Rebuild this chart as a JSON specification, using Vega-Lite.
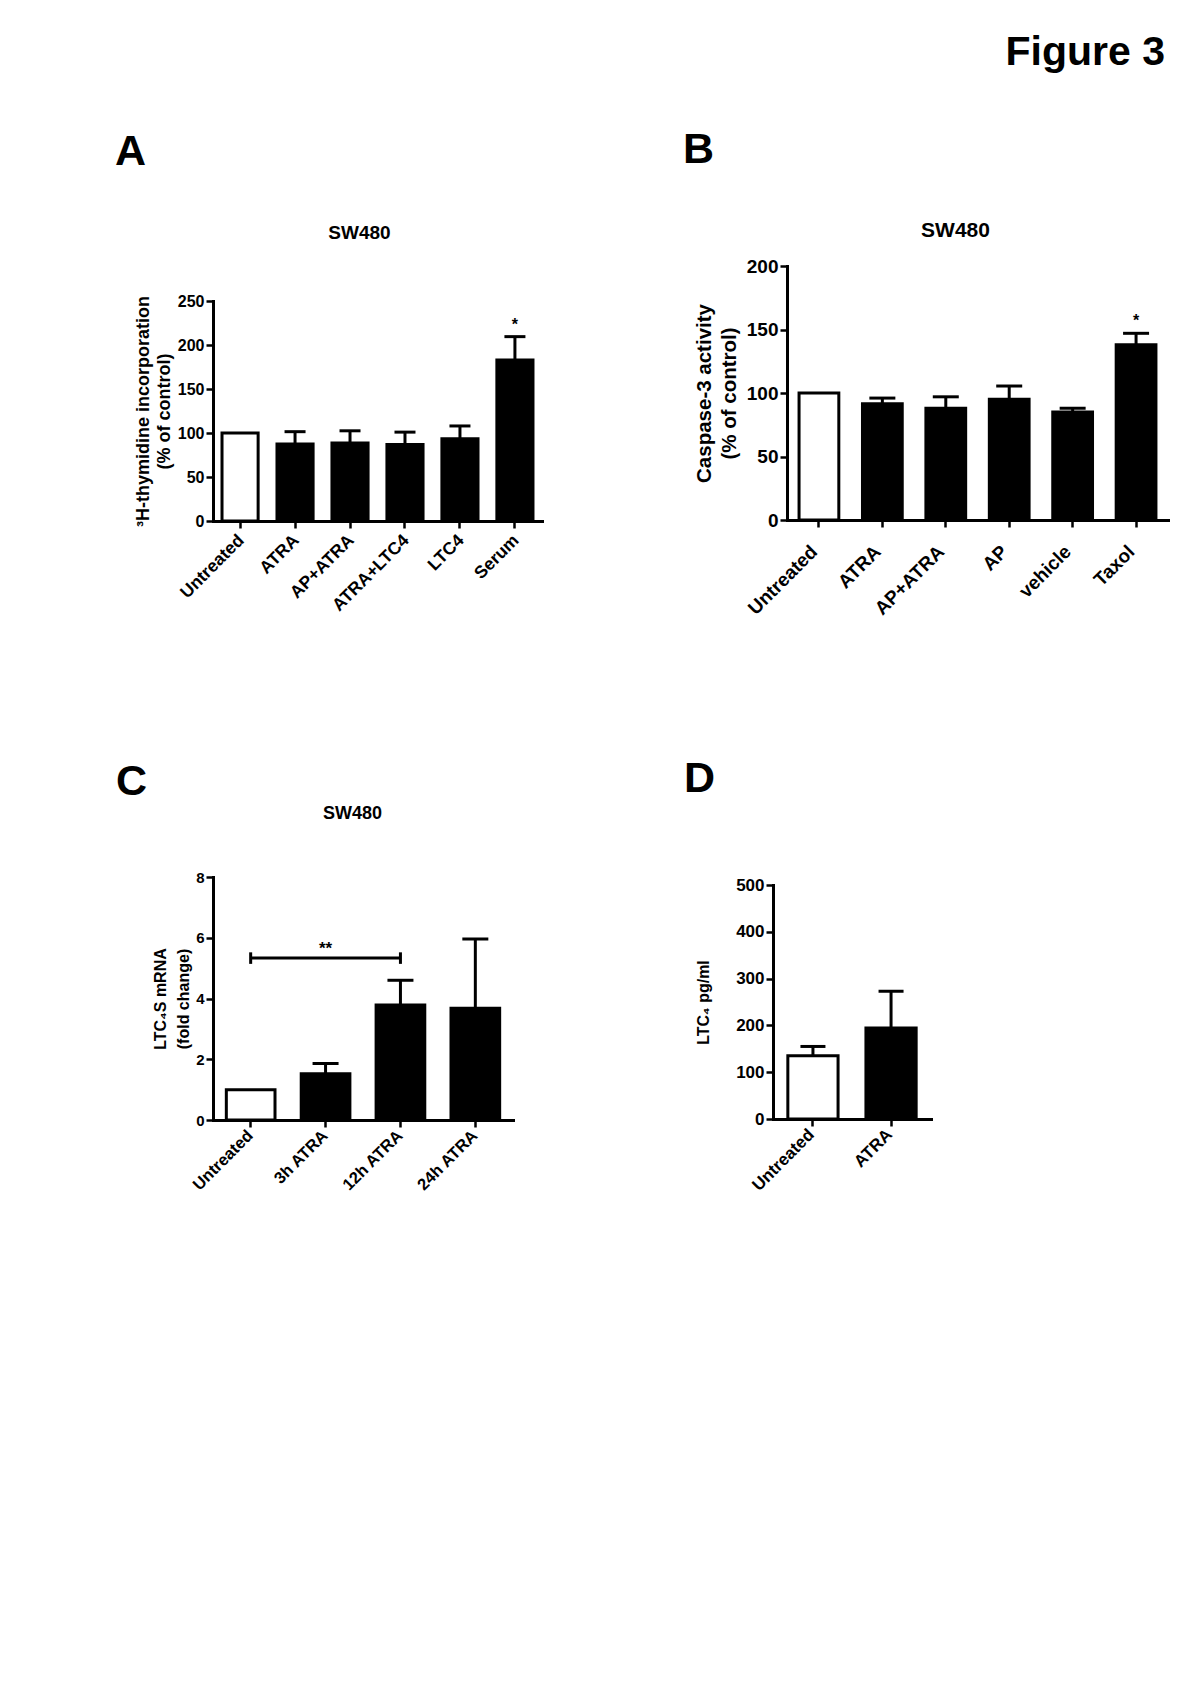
{
  "$schema": "https://vega.github.io/schema/vega-lite/v6.json",
  "padding": {"left": 115, "top": 32, "right": 5, "bottom": 5},
  "background": "white",
  "title": {"text": "Figure 3", "anchor": "end", "fontSize": 41, "offset": 55, "dx": -3},
  "config": {
    "font": "Liberation Sans",
    "view": {"stroke": null},
    "title": {"font": "Liberation Sans", "fontWeight": "bold", "color": "black"},
    "axis": {
      "domainColor": "black", "domainWidth": 3, "domainCap": "square",
      "tickColor": "black", "tickWidth": 2.5, "tickSize": 7,
      "labelColor": "black", "labelFontWeight": "bold", "labelFont": "Liberation Sans",
      "titleColor": "black", "titleFontWeight": "bold", "titleFont": "Liberation Sans",
      "grid": false
    }
  },
  "datasets": {
    "a": [
      {"group": "Untreated", "kind": "open", "value": 100, "err": null, "sig": ""},
      {"group": "ATRA", "kind": "filled", "value": 87.5, "err": 101.5, "sig": ""},
      {"group": "AP+ATRA", "kind": "filled", "value": 88.5, "err": 102.5, "sig": ""},
      {"group": "ATRA+LTC4", "kind": "filled", "value": 87, "err": 101, "sig": ""},
      {"group": "LTC4", "kind": "filled", "value": 93.5, "err": 108, "sig": ""},
      {"group": "Serum", "kind": "filled", "value": 183, "err": 209.5, "sig": "*"}
    ],
    "b": [
      {"group": "Untreated", "kind": "open", "value": 100, "err": null, "sig": ""},
      {"group": "ATRA", "kind": "filled", "value": 91.5, "err": 96, "sig": ""},
      {"group": "AP+ATRA", "kind": "filled", "value": 88, "err": 97, "sig": ""},
      {"group": "AP", "kind": "filled", "value": 95, "err": 105.5, "sig": ""},
      {"group": "vehicle", "kind": "filled", "value": 85, "err": 88, "sig": ""},
      {"group": "Taxol", "kind": "filled", "value": 138, "err": 147, "sig": "*"}
    ],
    "c": [
      {"group": "Untreated", "kind": "open", "value": 1, "err": null},
      {"group": "3h ATRA", "kind": "filled", "value": 1.52, "err": 1.86},
      {"group": "12h ATRA", "kind": "filled", "value": 3.79, "err": 4.6},
      {"group": "24h ATRA", "kind": "filled", "value": 3.68, "err": 5.96}
    ],
    "cbracket": [
      {"from": "Untreated", "to": "12h ATRA", "mid": "3h ATRA", "level": 5.33, "label": "**"}
    ],
    "cends": [
      {"group": "Untreated", "lo": 5.14, "hi": 5.52},
      {"group": "12h ATRA", "lo": 5.14, "hi": 5.52}
    ],
    "d": [
      {"group": "Untreated", "kind": "open", "value": 135, "err": 155},
      {"group": "ATRA", "kind": "filled", "value": 194.5, "err": 273}
    ]
  },
  "spacing": 139,
  "vconcat": [
    {
      "spacing": 141,
      "hconcat": [
        {
          "width": 329, "height": 255,
          "title": {"text": "A", "anchor": "start", "frame": "group", "dx": -98, "fontSize": 43, "offset": 49},
          "data": {"name": "a"},
          "layer": [
            {
              "mark": {"type": "bar", "stroke": "black", "strokeWidth": 3},
              "encoding": {
                "x": {"field": "group", "type": "nominal",
                  "scale": {"domain": ["Untreated", "ATRA", "AP+ATRA", "ATRA+LTC4", "LTC4", "Serum"], "paddingInner": 0.343, "paddingOuter": 0.164},
                  "axis": {"title": "SW480", "titleY": -283, "titleX": 146, "titleBaseline": "alphabetic", "titleAlign": "center", "titleFontSize": 19, "labelAngle": -45, "labelFontSize": 17.5, "labelPadding": 3, "labelOffset": -5}},
                "y": {"field": "value", "type": "quantitative",
                  "scale": {"domain": [0, 250], "nice": false, "range": [255, 35]},
                  "axis": {"title": ["³H-thymidine incorporation", "(% of control)"], "titleFontSize": 18, "titleLineHeight": 21, "titlePadding": 4, "labelPadding": 2, "labelFontSize": 16, "values": [0, 50, 100, 150, 200, 250]}},
                "fill": {"field": "kind", "type": "nominal", "scale": {"domain": ["open", "filled"], "range": ["white", "black"]}, "legend": null}
              }
            },
            {
              "transform": [{"filter": "datum.err != null"}],
              "mark": {"type": "rule", "strokeWidth": 3, "color": "black"},
              "encoding": {
                "x": {"field": "group", "type": "nominal"},
                "y": {"field": "value", "type": "quantitative"},
                "y2": {"field": "err"}
              }
            },
            {
              "transform": [{"filter": "datum.err != null"}],
              "mark": {"type": "tick", "thickness": 3, "size": 21, "color": "black", "opacity": 1, "orient": "horizontal"},
              "encoding": {
                "x": {"field": "group", "type": "nominal"},
                "y": {"field": "err", "type": "quantitative"}
              }
            },
            {
              "transform": [{"filter": "datum.err != null"}],
              "mark": {"type": "text", "fontSize": 16, "fontWeight": "bold", "color": "black", "baseline": "alphabetic", "dy": -7},
              "encoding": {
                "x": {"field": "group", "type": "nominal"},
                "y": {"field": "err", "type": "quantitative"},
                "text": {"field": "sig"}
              }
            }
          ]
        },
        {
          "width": 381, "height": 254,
          "title": {"text": "B", "anchor": "start", "frame": "group", "dx": -104, "fontSize": 43, "offset": 47},
          "data": {"name": "b"},
          "layer": [
            {
              "mark": {"type": "bar", "stroke": "black", "strokeWidth": 3},
              "encoding": {
                "x": {"field": "group", "type": "nominal",
                  "scale": {"domain": ["Untreated", "ATRA", "AP+ATRA", "AP", "vehicle", "Taxol"], "paddingInner": 0.373, "paddingOuter": 0.19},
                  "axis": {"title": "SW480", "titleY": -284, "titleX": 168, "titleBaseline": "alphabetic", "titleAlign": "center", "titleFontSize": 21, "labelAngle": -45, "labelFontSize": 19, "labelPadding": 15, "labelOffset": -11}},
                "y": {"field": "value", "type": "quantitative",
                  "scale": {"domain": [0, 200], "nice": false},
                  "axis": {"title": ["Caspase-3 activity", "(% of control)"], "titleFontSize": 20.5, "titleLineHeight": 25, "titlePadding": 7, "labelPadding": 2, "labelFontSize": 19, "values": [0, 50, 100, 150, 200]}},
                "fill": {"field": "kind", "type": "nominal", "scale": {"domain": ["open", "filled"], "range": ["white", "black"]}, "legend": null}
              }
            },
            {
              "transform": [{"filter": "datum.err != null"}],
              "mark": {"type": "rule", "strokeWidth": 3, "color": "black"},
              "encoding": {
                "x": {"field": "group", "type": "nominal"},
                "y": {"field": "value", "type": "quantitative"},
                "y2": {"field": "err"}
              }
            },
            {
              "transform": [{"filter": "datum.err != null"}],
              "mark": {"type": "tick", "thickness": 3, "size": 26, "color": "black", "opacity": 1, "orient": "horizontal"},
              "encoding": {
                "x": {"field": "group", "type": "nominal"},
                "y": {"field": "err", "type": "quantitative"}
              }
            },
            {
              "transform": [{"filter": "datum.err != null"}],
              "mark": {"type": "text", "fontSize": 16, "fontWeight": "bold", "color": "black", "baseline": "alphabetic", "dy": -7},
              "encoding": {
                "x": {"field": "group", "type": "nominal"},
                "y": {"field": "err", "type": "quantitative"},
                "text": {"field": "sig"}
              }
            }
          ]
        }
      ]
    },
    {
      "spacing": 171,
      "hconcat": [
        {
          "width": 300, "height": 243,
          "title": {"text": "C", "anchor": "start", "frame": "group", "dx": -97, "fontSize": 43, "offset": 0},
          "layer": [
            {
              "data": {"name": "c"},
              "mark": {"type": "bar", "stroke": "black", "strokeWidth": 3},
              "encoding": {
                "x": {"field": "group", "type": "nominal",
                  "scale": {"domain": ["Untreated", "3h ATRA", "12h ATRA", "24h ATRA"], "paddingInner": 0.35, "paddingOuter": 0.178},
                  "axis": {"title": "SW480", "titleY": -302, "titleX": 139, "titleBaseline": "alphabetic", "titleAlign": "center", "titleFontSize": 18, "labelAngle": -45, "labelFontSize": 16.5, "labelPadding": 0, "labelOffset": -6}},
                "y": {"field": "value", "type": "quantitative",
                  "scale": {"domain": [0, 8], "nice": false},
                  "axis": {"title": ["LTC₄S mRNA", "(fold change)"], "titleFontSize": 16, "titleLineHeight": 23, "titlePadding": 4, "labelPadding": 2, "labelFontSize": 15, "values": [0, 2, 4, 6, 8]}},
                "fill": {"field": "kind", "type": "nominal", "scale": {"domain": ["open", "filled"], "range": ["white", "black"]}, "legend": null}
              }
            },
            {
              "data": {"name": "c"},
              "transform": [{"filter": "datum.err != null"}],
              "mark": {"type": "rule", "strokeWidth": 3, "color": "black"},
              "encoding": {
                "x": {"field": "group", "type": "nominal"},
                "y": {"field": "value", "type": "quantitative"},
                "y2": {"field": "err"}
              }
            },
            {
              "data": {"name": "c"},
              "transform": [{"filter": "datum.err != null"}],
              "mark": {"type": "tick", "thickness": 3, "size": 26, "color": "black", "opacity": 1, "orient": "horizontal"},
              "encoding": {
                "x": {"field": "group", "type": "nominal"},
                "y": {"field": "err", "type": "quantitative"}
              }
            },
            {
              "data": {"name": "cbracket"},
              "mark": {"type": "rule", "strokeWidth": 3, "color": "black"},
              "encoding": {
                "x": {"field": "from", "type": "nominal"},
                "x2": {"field": "to"},
                "y": {"field": "level", "type": "quantitative"}
              }
            },
            {
              "data": {"name": "cends"},
              "mark": {"type": "rule", "strokeWidth": 3, "color": "black"},
              "encoding": {
                "x": {"field": "group", "type": "nominal"},
                "y": {"field": "lo", "type": "quantitative"},
                "y2": {"field": "hi"}
              }
            },
            {
              "data": {"name": "cbracket"},
              "mark": {"type": "text", "fontSize": 17, "fontWeight": "bold", "color": "black", "baseline": "alphabetic", "dy": -4},
              "encoding": {
                "x": {"field": "mid", "type": "nominal"},
                "y": {"field": "level", "type": "quantitative"},
                "text": {"field": "label"}
              }
            }
          ]
        },
        {
          "width": 158, "height": 242,
          "title": {"text": "D", "anchor": "start", "frame": "group", "dx": -89, "fontSize": 43, "offset": 75},
          "data": {"name": "d"},
          "layer": [
            {
              "mark": {"type": "bar", "stroke": "black", "strokeWidth": 3},
              "encoding": {
                "x": {"field": "group", "type": "nominal",
                  "scale": {"domain": ["Untreated", "ATRA"], "paddingInner": 0.357, "paddingOuter": 0.19},
                  "axis": {"title": null, "labelAngle": -45, "labelFontSize": 17, "labelPadding": 0, "labelOffset": -7}},
                "y": {"field": "value", "type": "quantitative",
                  "scale": {"domain": [0, 500], "nice": false, "range": [242, 8]},
                  "axis": {"title": "LTC₄ pg/ml", "titleFontSize": 16, "titlePadding": 24, "labelPadding": 2, "labelFontSize": 17, "values": [0, 100, 200, 300, 400, 500]}},
                "fill": {"field": "kind", "type": "nominal", "scale": {"domain": ["open", "filled"], "range": ["white", "black"]}, "legend": null}
              }
            },
            {
              "mark": {"type": "rule", "strokeWidth": 3, "color": "black"},
              "encoding": {
                "x": {"field": "group", "type": "nominal"},
                "y": {"field": "value", "type": "quantitative"},
                "y2": {"field": "err"}
              }
            },
            {
              "mark": {"type": "tick", "thickness": 3, "size": 25, "color": "black", "opacity": 1, "orient": "horizontal"},
              "encoding": {
                "x": {"field": "group", "type": "nominal"},
                "y": {"field": "err", "type": "quantitative"}
              }
            }
          ]
        }
      ]
    }
  ]
}
